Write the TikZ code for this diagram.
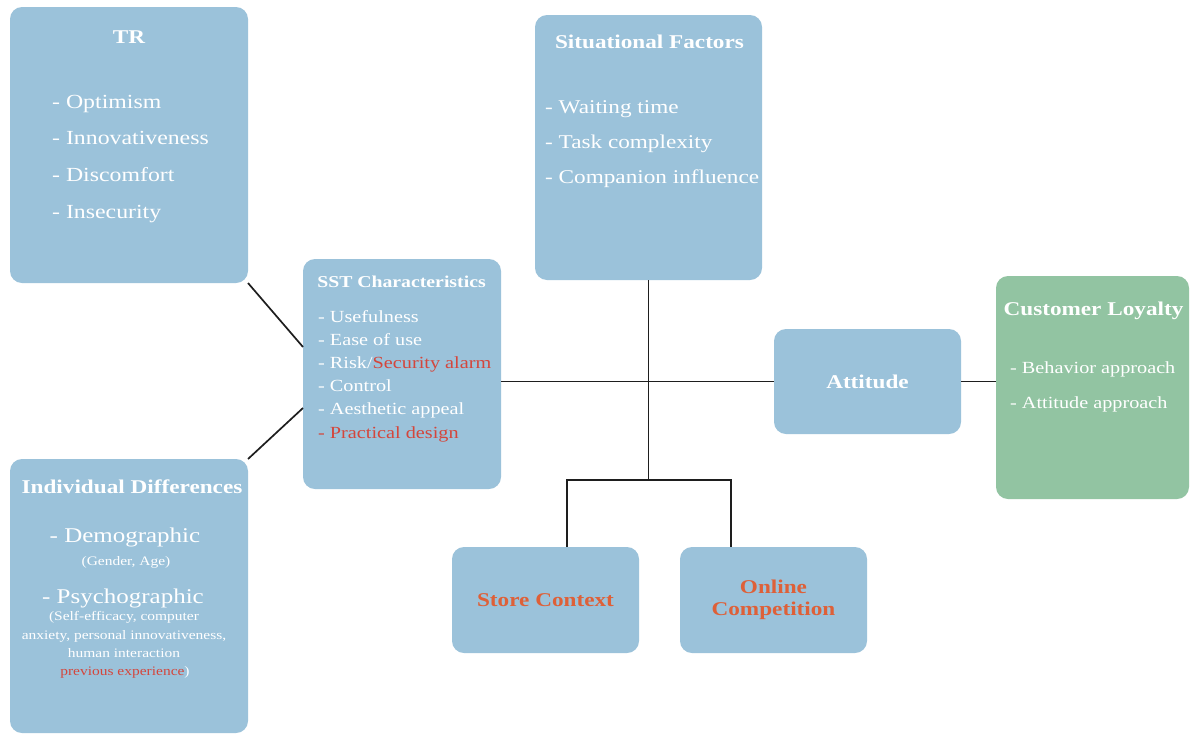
\documentclass[tikz,border=0pt]{standalone}
\usepackage{fontspec}
\setmainfont{Liberation Serif}[FakeStretch=1.19]
\usetikzlibrary{positioning}
\definecolor{boxblue}{RGB}{155,194,218}
\definecolor{boxgreen}{RGB}{146,196,162}
\definecolor{alarmred}{RGB}{212,70,60}
\definecolor{ctxorange}{RGB}{222,96,56}
\definecolor{linkgray}{RGB}{30,30,30}

\begin{document}
\begin{tikzpicture}[x=1pt,y=-1pt,
    box/.style={rounded corners=12pt,fill=boxblue,inner sep=0pt,outer sep=0pt},
    head/.style={text=white,anchor=base,inner sep=0pt,font=\bfseries\fontsize{19.5}{22}\selectfont},
    item/.style={text=white,anchor=base west,inner sep=0pt},
    link/.style={draw=linkgray,line width=1.7pt}]
    \useasboundingbox[fill=white] (0,0) rectangle (1191,734);
    % boxes
    \node[box,minimum width=238pt,minimum height=276pt] (tr) at (129,145) {};
    \node[box,minimum width=227pt,minimum height=265pt] (sf) at (648.5,147.5) {};
    \node[box,minimum width=198pt,minimum height=230pt] (sst) at (402,374) {};
    \node[box,minimum width=187pt,minimum height=105pt] (att) at (867.5,381.5) {};
    \node[box,fill=boxgreen,minimum width=193pt,minimum height=223pt] (cl) at (1092.5,387.5) {};
    \node[box,minimum width=238pt,minimum height=274pt] (id) at (129,596) {};
    \node[box,minimum width=187pt,minimum height=106pt] (store) at (545.5,600) {};
    \node[box,minimum width=187pt,minimum height=106pt] (online) at (773.5,600) {};
    % TR
    \node[head] (trT) at (129,43.5) {TR};
    \foreach \t [count=\i] in {Optimism,Innovativeness,Discomfort,Insecurity}
        \node[item,font=\fontsize{20}{24}\selectfont] (tr\i) at (52,{108+36.7*(\i-1)}) {- \t};
    % situational factors
    \node[head] (sfT) at (649.5,48) {Situational Factors};
    \foreach \t [count=\i] in {Waiting time,Task complexity,Companion influence}
        \node[item,font=\fontsize{19.5}{24}\selectfont] (sf\i) at (545,{113+35*(\i-1)}) {- \t};
    % SST characteristics
    \node[head,font=\bfseries\fontsize{16.6}{20}\selectfont] (sstT) at (401.5,287) {SST Characteristics};
    \foreach \t [count=\i] in {{- Usefulness},{- Ease of use},{- Risk/\textcolor{alarmred}{Security alarm}},
        {- Control},{- Aesthetic appeal},{\textcolor{alarmred}{- Practical design}}}
        \node[item,font=\fontsize{17}{20}\selectfont] (sst\i) at (318,{322+23.2*(\i-1)}) {\t};
    % attitude and loyalty
    \node[head,anchor=center] (attT) at (att) {Attitude};
    \node[head] (clT) at (1093.5,315) {Customer Loyalty};
    \node[item,font=\fontsize{17}{20}\selectfont] (cl1) at (1010,373) {- Behavior approach};
    \node[item,font=\fontsize{17}{20}\selectfont] (cl2) at (1010,408) {- Attitude approach};
    % individual differences
    \node[head] (idT) at (132,493) {Individual Differences};
    \node[item,anchor=base,font=\fontsize{21}{24}\selectfont] (id1) at (125,542) {- Demographic};
    \node[item,anchor=base,font=\fontsize{13}{16}\selectfont] (id2) at (126,565) {(Gender, Age)};
    \node[item,anchor=base,font=\fontsize{21}{24}\selectfont] (id3) at (123,603) {- Psychographic};
    \node[item,anchor=base,font=\fontsize{13}{16}\selectfont] (id4) at (124,620) {(Self-efficacy, computer};
    \node[item,anchor=base,font=\fontsize{13}{16}\selectfont] (id5) at (124,639) {anxiety, personal innovativeness,};
    \node[item,anchor=base,font=\fontsize{13}{16}\selectfont] (id6) at (124,657) {human interaction};
    \node[item,anchor=base,font=\fontsize{13}{16}\selectfont] (id7) at (125,675) {\textcolor{alarmred}{previous experience})};
    % context boxes
    \node[head,anchor=center,text=ctxorange] (storeT) at (store) {Store Context};
    \node[head,anchor=center,text=ctxorange,align=center,font=\bfseries\fontsize{19.5}{22}\selectfont] (onlineT) at (online) {Online\\Competition};
    % connectors
    \coordinate (split) at ([yshift=-200pt]sf.south);
    \draw[link] (tr.south east) -- ([yshift=27pt]sst.west);
    \draw[link] (id.north east) -- ([yshift=-34pt]sst.west);
    \draw[link] (att.west) -- (att.west -| sst.east);
    \draw[link] (sf.south) -- (split);
    \draw[link] ([xshift=21.5pt]store.north) |- (split) -| ([xshift=-42.5pt]online.north);
    \draw[link] (att.east) -- (att.east -| cl.west);
\end{tikzpicture}
\end{document}
